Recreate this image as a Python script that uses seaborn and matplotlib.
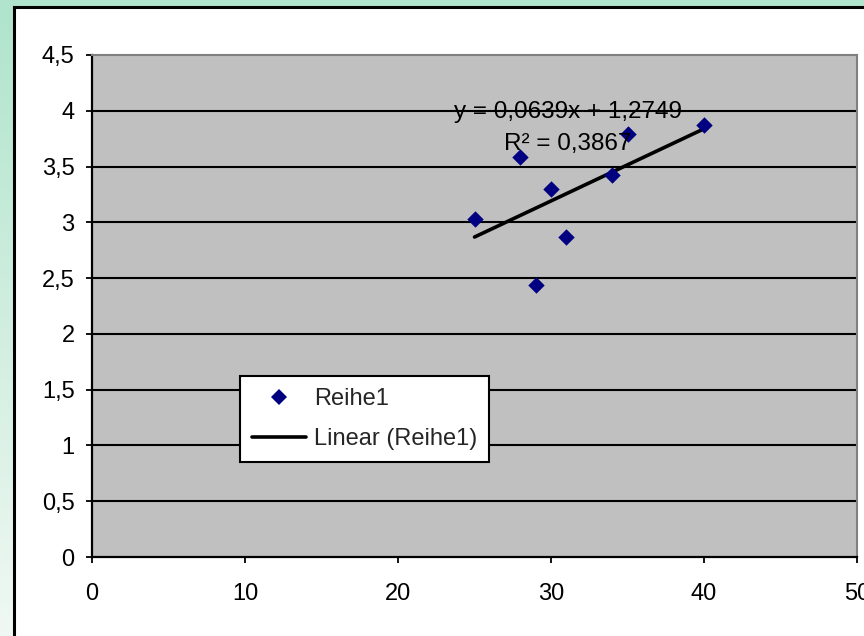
import numpy as np
import matplotlib
matplotlib.use("Agg")
import matplotlib.pyplot as plt
from matplotlib.patches import Rectangle
from matplotlib.lines import Line2D
import seaborn as sns

# ---- data ----
x_vals = [25, 28, 29, 30, 31, 34, 35, 40]
y_vals = [3.03, 3.59, 2.44, 3.30, 2.87, 3.42, 3.79, 3.87]
series_label = "Reihe1"
trend_label = "Linear (Reihe1)"
eq_text = "y = 0,0639x + 1,2749"
r2_text = "R\u00b2 = 0,3867"
x_ticks = [0, 10, 20, 30, 40, 50]
x_ticklabels = ["0", "10", "20", "30", "40", "50"]
y_ticks = [0, 0.5, 1, 1.5, 2, 2.5, 3, 3.5, 4, 4.5]
y_ticklabels = ["0", "0,5", "1", "1,5", "2", "2,5", "3", "3,5", "4", "4,5"]

sns.set_theme(style="ticks")
plt.rcParams["font.family"] = ["Liberation Sans", "DejaVu Sans"]
FS = 17
FS_TXT = 17.5

W, H = 864, 636
fig = plt.figure(figsize=(W / 100, H / 100), dpi=100)

# background gradient + chart area
bg = fig.add_axes([0, 0, 1, 1], zorder=-10)
top = np.array([176, 228, 204]) / 255
bot = np.array([240, 248, 243]) / 255
t = np.linspace(0, 1, 256)[:, None]
grad = (top[None, :] * (1 - t) + bot[None, :] * t)[:, None, :]
bg.imshow(grad, aspect="auto", extent=[0, 1, 0, 1], origin="upper")
bg.add_patch(Rectangle((13.5 / W, -0.1), 1.2, 1.1 - 6.5 / H, transform=bg.transAxes,
                       facecolor="white", edgecolor="black", lw=2.2, clip_on=False))
bg.set_xlim(0, 1); bg.set_ylim(0, 1)
bg.axis("off")

ax = fig.add_axes([92 / W, 1 - 557 / H, (857 - 92) / W, (557 - 55) / H])
ax.set_facecolor("#C0C0C0")

sns.regplot(x=np.array(x_vals), y=np.array(y_vals), ax=ax, ci=None, marker="D",
            color="#000080",
            scatter_kws=dict(s=70, linewidths=0, alpha=1, zorder=4),
            line_kws=dict(color="black", lw=2.6, zorder=3))

ax.set_xlim(0, 50)
ax.set_ylim(0, 4.5)
ax.set_xticks(x_ticks)
ax.set_xticklabels(x_ticklabels)
ax.set_yticks(y_ticks)
ax.set_yticklabels(y_ticklabels)
ax.set_xlabel("")
ax.set_ylabel("")
for yv in y_ticks[1:-1]:
    ax.axhline(yv, color="black", lw=1.5, zorder=1)

ax.tick_params(axis="both", direction="out", length=4.5, width=1.3, colors="black",
               labelsize=FS, bottom=True, left=True)
ax.tick_params(axis="x", pad=14)
ax.tick_params(axis="y", pad=8)
for s in ["left", "bottom"]:
    ax.spines[s].set_color("black")
    ax.spines[s].set_linewidth(1.6)
for s in ["top", "right"]:
    ax.spines[s].set_color("#808080")
    ax.spines[s].set_linewidth(1.5)

ax.text(31.1, 3.99, eq_text, ha="center", va="center", fontsize=FS_TXT, color="black", zorder=5)
ax.text(31.1, 3.70, r2_text, ha="center", va="center", fontsize=FS_TXT, color="black", zorder=5)

handles = [Line2D([], [], marker="D", ls="none", color="#000080", markersize=8, markeredgewidth=0),
           Line2D([], [], color="black", lw=2.6)]
leg = ax.legend(handles, [series_label, trend_label], loc="upper left",
                bbox_to_anchor=(240 / W, 1 - 376 / H), bbox_transform=fig.transFigure,
                frameon=True, fancybox=False, framealpha=1, edgecolor="black",
                fontsize=17, borderaxespad=0, borderpad=0.5, labelspacing=0.78,
                handlelength=2.3, handletextpad=0.35)
leg.get_frame().set_linewidth(1.5)
leg.set_zorder(6)

fig.savefig("out.png", dpi=100)
